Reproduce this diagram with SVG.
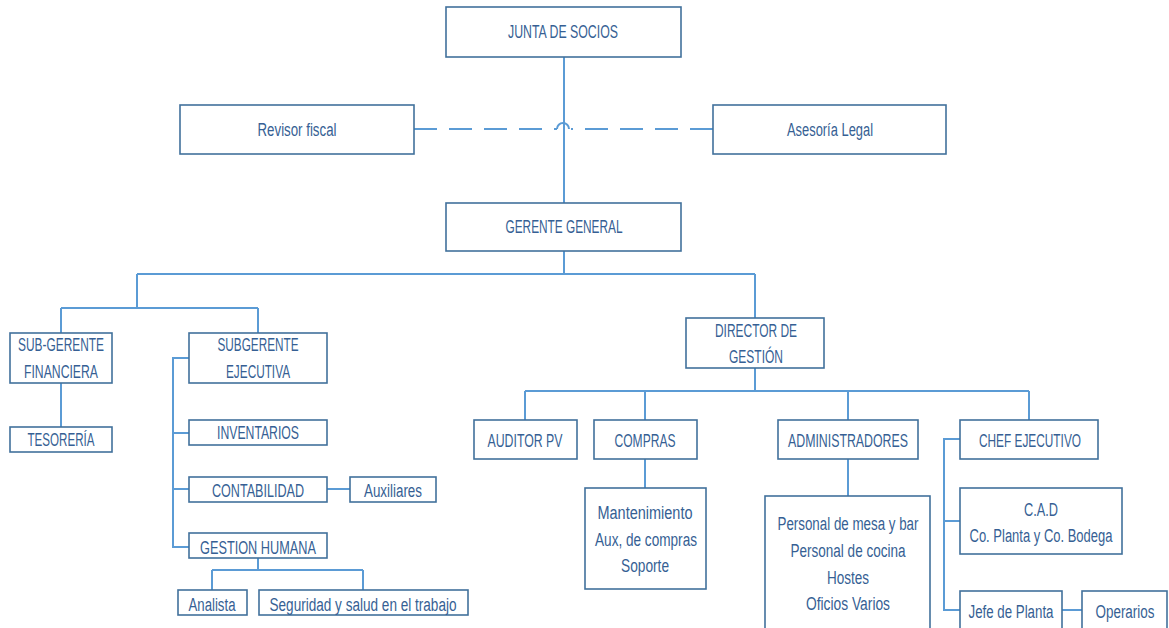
<svg xmlns="http://www.w3.org/2000/svg" width="1169" height="628" viewBox="0 0 1169 628">
<style>
.box{fill:#fff;stroke:#41719C;stroke-width:1.6}
.ln{fill:none;stroke:#5B9BD5;stroke-width:2}
.dash{fill:none;stroke:#5B9BD5;stroke-width:2;stroke-dasharray:23 12}
text{font-family:"Liberation Sans",Arial,sans-serif;font-size:18px;fill:#365F94;text-anchor:middle}
</style>
<rect width="1169" height="628" fill="#fff"/>
<g id="connectors">
<path class="ln" d="M564,57 V203"/>
<path class="dash" d="M414,129 H557"/>
<path class="ln" d="M557,129 A6,6 0 0 1 569,129"/>
<path class="dash" d="M713,129 H571"/>
<path class="ln" d="M564,251 V274 M137,274 H755 M137,274 V308 M61,308 H258 M61,308 V333 M258,308 V333 M755,274 V318"/>
<path class="ln" d="M61,383 V427"/>
<path class="ln" d="M189,358 H173 V547 H189 M173,433 H189 M173,489 H189 M327,489 H350"/>
<path class="ln" d="M258,558 V570 M212,570 H363 M212,570 V590 M363,570 V590"/>
<path class="ln" d="M755,368 V391 M525,391 H1029 M525,391 V420 M645,391 V420 M848,391 V420 M1029,391 V420"/>
<path class="ln" d="M645,459 V488 M848,459 V496"/>
<path class="ln" d="M960,439 H944 V610 H960 M944,521 H960 M1062,610 H1082"/>
</g>
<g id="junta"><rect class="box" x="446" y="7" width="235" height="50"/><text x="563" y="38" textLength="110" lengthAdjust="spacingAndGlyphs">JUNTA DE SOCIOS</text></g>
<g id="revisor"><rect class="box" x="180" y="105" width="234" height="49"/><text x="297" y="136" textLength="79" lengthAdjust="spacingAndGlyphs">Revisor fiscal</text></g>
<g id="asesoria"><rect class="box" x="713" y="105" width="233" height="49"/><text x="830" y="136" textLength="86" lengthAdjust="spacingAndGlyphs">Asesoría Legal</text></g>
<g id="gerente"><rect class="box" x="446" y="203" width="235" height="48"/><text x="564" y="233" textLength="117" lengthAdjust="spacingAndGlyphs">GERENTE GENERAL</text></g>
<g id="subfin"><rect class="box" x="10" y="333" width="102" height="50"/><text x="61" y="351" textLength="86" lengthAdjust="spacingAndGlyphs">SUB-GERENTE</text><text x="61" y="378" textLength="74" lengthAdjust="spacingAndGlyphs">FINANCIERA</text></g>
<g id="tesoreria"><rect class="box" x="10" y="427" width="102" height="25"/><text x="61" y="446" textLength="67" lengthAdjust="spacingAndGlyphs">TESORERÍA</text></g>
<g id="subejec"><rect class="box" x="189" y="333" width="138" height="50"/><text x="258" y="351" textLength="81" lengthAdjust="spacingAndGlyphs">SUBGERENTE</text><text x="258" y="378" textLength="64" lengthAdjust="spacingAndGlyphs">EJECUTIVA</text></g>
<g id="inventarios"><rect class="box" x="189" y="420" width="138" height="25"/><text x="258" y="439" textLength="82" lengthAdjust="spacingAndGlyphs">INVENTARIOS</text></g>
<g id="contabilidad"><rect class="box" x="189" y="477" width="138" height="25"/><text x="258" y="497" textLength="92" lengthAdjust="spacingAndGlyphs">CONTABILIDAD</text></g>
<g id="auxiliares"><rect class="box" x="350" y="477" width="86" height="25"/><text x="393" y="497" textLength="58" lengthAdjust="spacingAndGlyphs">Auxiliares</text></g>
<g id="gestionhumana"><rect class="box" x="189" y="533" width="138" height="25"/><text x="258" y="554" textLength="116" lengthAdjust="spacingAndGlyphs">GESTION HUMANA</text></g>
<g id="analista"><rect class="box" x="178" y="590" width="69" height="25"/><text x="212" y="611" textLength="47" lengthAdjust="spacingAndGlyphs">Analista</text></g>
<g id="seguridad"><rect class="box" x="259" y="590" width="209" height="25"/><text x="363" y="611" textLength="187" lengthAdjust="spacingAndGlyphs">Seguridad y salud en el trabajo</text></g>
<g id="director"><rect class="box" x="686" y="318" width="138" height="50"/><text x="756" y="337" textLength="82" lengthAdjust="spacingAndGlyphs">DIRECTOR DE</text><text x="756" y="363" textLength="54" lengthAdjust="spacingAndGlyphs">GESTIÓN</text></g>
<g id="auditor"><rect class="box" x="474" y="420" width="103" height="39"/><text x="525" y="447" textLength="75" lengthAdjust="spacingAndGlyphs">AUDITOR PV</text></g>
<g id="compras"><rect class="box" x="594" y="420" width="103" height="39"/><text x="645" y="447" textLength="61" lengthAdjust="spacingAndGlyphs">COMPRAS</text></g>
<g id="administradores"><rect class="box" x="778" y="420" width="140" height="39"/><text x="848" y="447" textLength="120" lengthAdjust="spacingAndGlyphs">ADMINISTRADORES</text></g>
<g id="chef"><rect class="box" x="960" y="420" width="138" height="39"/><text x="1030" y="447" textLength="102" lengthAdjust="spacingAndGlyphs">CHEF EJECUTIVO</text></g>
<g id="mantenimiento"><rect class="box" x="585" y="488" width="121" height="101"/><text x="645" y="519" textLength="95" lengthAdjust="spacingAndGlyphs">Mantenimiento</text><text x="646" y="546" textLength="102" lengthAdjust="spacingAndGlyphs">Aux, de compras</text><text x="645" y="572" textLength="48" lengthAdjust="spacingAndGlyphs">Soporte</text></g>
<g id="personal"><rect class="box" x="765" y="496" width="165" height="140"/><text x="848" y="530" textLength="141" lengthAdjust="spacingAndGlyphs">Personal de mesa y bar</text><text x="848" y="557" textLength="115" lengthAdjust="spacingAndGlyphs">Personal de cocina</text><text x="848" y="584" textLength="42" lengthAdjust="spacingAndGlyphs">Hostes</text><text x="848" y="610" textLength="84" lengthAdjust="spacingAndGlyphs">Oficios Varios</text></g>
<g id="cad"><rect class="box" x="960" y="488" width="162" height="66"/><text x="1041" y="516" textLength="34" lengthAdjust="spacingAndGlyphs">C.A.D</text><text x="1041" y="542" textLength="143" lengthAdjust="spacingAndGlyphs">Co. Planta y Co. Bodega</text></g>
<g id="jefeplanta"><rect class="box" x="960" y="591" width="102" height="42"/><text x="1011" y="618" textLength="85" lengthAdjust="spacingAndGlyphs">Jefe de Planta</text></g>
<g id="operarios"><rect class="box" x="1082" y="591" width="85" height="42"/><text x="1125" y="618" textLength="59" lengthAdjust="spacingAndGlyphs">Operarios</text></g>
</svg>
